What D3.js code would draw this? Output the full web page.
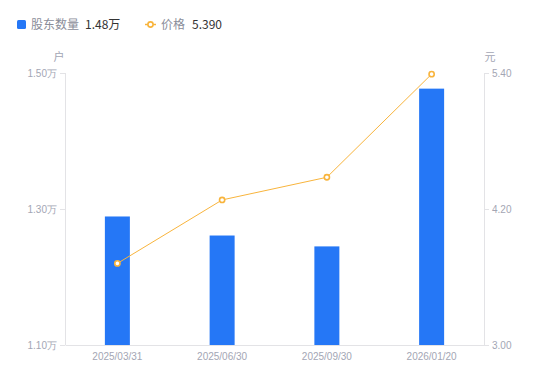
<!DOCTYPE html>
<html>
<head>
<meta charset="utf-8">
<script src="https://cdn.jsdelivr.net/npm/d3@7"></script>
<style>
  body { margin: 0; background: #fff; }
  svg { display: block; font-family: "Noto Sans CJK SC", "Liberation Sans", sans-serif; }
</style>
</head>
<body>
<div id="chart"></div>
<script>
// data
var dates = ["2025/03/31", "2025/06/30", "2025/09/30", "2026/01/20"];
var holders = [1.289, 1.261, 1.245, 1.477];   // 万户
var prices = [3.72, 4.28, 4.48, 5.39];        // 元
var leftTicks = [1.10, 1.30, 1.50];
var rightTicks = [3.00, 4.20, 5.40];

var width = 550, height = 381;
var plotLeft = 65, plotRight = 484, plotTop = 73, plotBottom = 345;

var svg = d3.select("#chart").append("svg")
  .attr("width", width)
  .attr("height", height);

var x = d3.scaleBand().domain(dates).range([plotLeft, plotRight]);
var yL = d3.scaleLinear().domain([1.10, 1.50]).range([plotBottom, plotTop]);
var yR = d3.scaleLinear().domain([3.00, 5.40]).range([plotBottom, plotTop]);

var gray = "#a3a6b4", axisColor = "#e3e3e6";
var blue = "#2577f6", orange = "#f8b43c";

// axes
svg.append("g")
  .attr("transform", "translate(" + plotLeft + ",0)")
  .call(d3.axisLeft(yL).tickValues(leftTicks).tickSize(5).tickPadding(3)
    .tickFormat(function(d) { return d3.format(".2f")(d) + "万"; }))
  .call(function(g) {
    g.select(".domain").attr("stroke", axisColor).attr("d", "M0.5," + plotTop + "V" + plotBottom);
    g.selectAll(".tick line").attr("stroke", axisColor);
    g.selectAll("text").attr("fill", gray).style("font-size", "10px");
  });

svg.append("g")
  .attr("transform", "translate(" + plotRight + ",0)")
  .call(d3.axisRight(yR).tickValues(rightTicks).tickSize(5).tickPadding(3)
    .tickFormat(d3.format(".2f")))
  .call(function(g) {
    g.select(".domain").attr("stroke", axisColor).attr("d", "M0.5," + plotTop + "V" + plotBottom);
    g.selectAll(".tick line").attr("stroke", axisColor);
    g.selectAll("text").attr("fill", gray).style("font-size", "10px");
  });

svg.append("g")
  .attr("transform", "translate(0," + plotBottom + ")")
  .call(d3.axisBottom(x).tickSize(0).tickPadding(8))
  .call(function(g) {
    g.select(".domain").attr("stroke", axisColor);
    g.selectAll("text").attr("fill", gray).style("font-size", "10px");
  });

// unit labels
svg.append("text").attr("x", 59).attr("y", 61).attr("text-anchor", "middle")
  .attr("fill", gray).style("font-size", "11px").text("户");
svg.append("text").attr("x", 490).attr("y", 61).attr("text-anchor", "middle")
  .attr("fill", gray).style("font-size", "11px").text("元");

// bars
var barW = 25;
svg.append("g").selectAll("rect")
  .data(holders)
  .join("rect")
  .attr("x", function(d, i) { return x(dates[i]) + x.bandwidth() / 2 - barW / 2; })
  .attr("y", function(d) { return yL(d); })
  .attr("width", barW)
  .attr("height", function(d) { return plotBottom - yL(d); })
  .attr("fill", blue);

// price line
var line = d3.line()
  .x(function(d, i) { return x(dates[i]) + x.bandwidth() / 2; })
  .y(function(d) { return yR(d); });

svg.append("path")
  .datum(prices)
  .attr("d", line)
  .attr("fill", "none")
  .attr("stroke", orange)
  .attr("stroke-width", 1);

svg.append("g").selectAll("circle")
  .data(prices)
  .join("circle")
  .attr("cx", function(d, i) { return x(dates[i]) + x.bandwidth() / 2; })
  .attr("cy", function(d) { return yR(d); })
  .attr("r", 2.6)
  .attr("fill", "#fff")
  .attr("stroke", orange)
  .attr("stroke-width", 1.6);

// legend
var legend = svg.append("g").style("font-size", "12px");
legend.append("rect").attr("x", 17).attr("y", 20).attr("width", 9).attr("height", 9)
  .attr("rx", 1.5).attr("fill", blue);
legend.append("text").attr("x", 31).attr("y", 29).attr("fill", "#8a8d99").text("股东数量");
legend.append("text").attr("x", 85).attr("y", 29).attr("fill", "#333").text(d3.format(".2f")(holders[3]) + "万");

legend.append("line").attr("x1", 145).attr("x2", 156).attr("y1", 24.5).attr("y2", 24.5)
  .attr("stroke", orange).attr("stroke-width", 1.5);
legend.append("circle").attr("cx", 150.5).attr("cy", 24.5).attr("r", 2.6)
  .attr("fill", "#fff").attr("stroke", orange).attr("stroke-width", 1.6);
legend.append("text").attr("x", 161).attr("y", 29).attr("fill", "#8a8d99").text("价格");
legend.append("text").attr("x", 192).attr("y", 29).attr("fill", "#333").text(d3.format(".3f")(prices[3]));
</script>
</body>
</html>
